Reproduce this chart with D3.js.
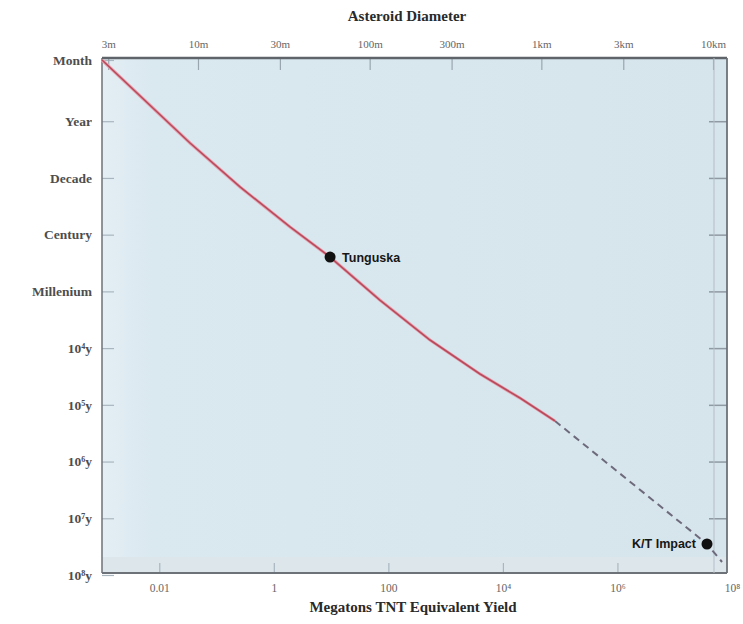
<!DOCTYPE html>
<html>
<head>
<meta charset="utf-8">
<script src="https://cdn.jsdelivr.net/npm/d3@7"></script>
<style>
  body { margin: 0; background: #ffffff; }
  svg { display: block; }
</style>
</head>
<body>
<div id="chart"></div>
<script>
// ---------------- data ----------------
const yieldMt       = [0.001, 0.0344, 0.257, 1.92, 9.6, 71, 533, 3980, 19900, 81300];
const intervalYears = [0.0833, 2.42, 14.4, 73, 248, 1420, 7200, 28600, 75900, 193000];
const extYieldMt       = [81300, 3.66e7, 6.7e7];
const extIntervalYears = [193000, 2.84e7, 5.9e7];

const events = [
  { name: "Tunguska",   yield: 9.6,    interval: 248,    side: "right" },
  { name: "K/T Impact", yield: 3.66e7, interval: 2.84e7, side: "left" }
];

const yTickValues = [1/12, 1, 10, 100, 1e3, 1e4, 1e5, 1e6, 1e7, 1e8];
const yTickLabels = ["Month", "Year", "Decade", "Century", "Millenium", "10⁴y", "10⁵y", "10⁶y", "10⁷y", "10⁸y"];

const xTickValues = [0.01, 1, 100, 1e4, 1e6, 1e8];
const xTickLabels = ["0.01", "1", "100", "10⁴", "10⁶", "10⁸"];

const dTickValues = [3, 10, 30, 100, 300, 1000, 3000, 10000];
const dTickLabels = ["3m", "10m", "30m", "100m", "300m", "1km", "3km", "10km"];

// ---------------- layout ----------------
const W = 743, H = 624;
const plot = { left: 102, right: 727, top: 58, bottom: 573 };

const svg = d3.select("#chart").append("svg").attr("width", W).attr("height", H);

const x = d3.scaleLog().domain([1e-3, 1e8]).range([102, 732]);
const y = d3.scaleLog().domain([1/12, 1e8]).range([60, 575]);
const xTop = d3.scaleLog().domain([2.76, 12060]).range([plot.left, plot.right]);

// background
const defs = svg.append("defs");
const grad = defs.append("linearGradient").attr("id", "bg").attr("x1", 0).attr("x2", 1).attr("y1", 0).attr("y2", 0);
grad.append("stop").attr("offset", "0%").attr("stop-color", "#e4eef4");
grad.append("stop").attr("offset", "8%").attr("stop-color", "#dae8f0");
grad.append("stop").attr("offset", "100%").attr("stop-color", "#d6e4ec");

svg.append("rect")
  .attr("x", plot.left).attr("y", plot.top)
  .attr("width", plot.right - plot.left).attr("height", plot.bottom - plot.top)
  .attr("fill", "url(#bg)");

// faint bottom band
svg.append("rect")
  .attr("x", plot.left).attr("y", plot.bottom - 16)
  .attr("width", plot.right - plot.left).attr("height", 16)
  .attr("fill", "#dde6ea");

// ---------------- axes ----------------
const serif = "'Liberation Serif', 'DejaVu Serif', serif";

const yAxis = d3.axisLeft(y).tickValues(yTickValues)
  .tickFormat((d, i) => yTickLabels[i]).tickSizeInner(-12).tickSizeOuter(0).tickPadding(10);
const gy = svg.append("g").attr("transform", `translate(${plot.left},0)`).call(yAxis);
gy.select(".domain").remove();
gy.selectAll(".tick line").attr("stroke", "#a9b6bf").attr("stroke-width", 1.2);
gy.selectAll(".tick text").attr("font-family", serif).attr("font-size", 13.5)
  .attr("fill", "#2f2f2f").attr("font-weight", "bold").attr("opacity", 0.85);

const yAxisR = d3.axisRight(y).tickValues(yTickValues.slice(1, 9)).tickFormat("")
  .tickSizeInner(-18).tickSizeOuter(0);
const gyr = svg.append("g").attr("transform", `translate(${plot.right},0)`).call(yAxisR);
gyr.select(".domain").remove();
gyr.selectAll(".tick line").attr("stroke", "#8f9aa3").attr("stroke-width", 1.5);

const xAxis = d3.axisBottom(x).tickValues(xTickValues)
  .tickFormat((d, i) => xTickLabels[i]).tickSizeInner(-10).tickSizeOuter(0).tickPadding(11);
const gx = svg.append("g").attr("transform", `translate(0,${plot.bottom})`).call(xAxis);
gx.select(".domain").remove();
gx.selectAll(".tick line").attr("stroke", "#a9b6bf").attr("stroke-width", 1.2)
  .filter(d => d >= 1e8).remove();
gx.selectAll(".tick text").attr("font-family", serif).attr("font-size", 11.5).attr("fill", "#666");

const dAxis = d3.axisTop(xTop).tickValues(dTickValues)
  .tickFormat((d, i) => dTickLabels[i]).tickSizeInner(-12).tickSizeOuter(0).tickPadding(10);
const gd = svg.append("g").attr("transform", `translate(0,${plot.top})`).call(dAxis);
gd.select(".domain").remove();
gd.selectAll(".tick line").attr("stroke", "#9aa6af").attr("stroke-width", 1.2);
gd.selectAll(".tick text").attr("font-family", serif).attr("font-size", 11).attr("fill", "#666");

// frame
svg.append("line").attr("x1", plot.left).attr("x2", plot.left).attr("y1", plot.top).attr("y2", plot.bottom)
  .attr("stroke", "#6c7278").attr("stroke-width", 1.5);
svg.append("line").attr("x1", plot.left).attr("x2", plot.right).attr("y1", plot.bottom).attr("y2", plot.bottom)
  .attr("stroke", "#6c7278").attr("stroke-width", 1.8);
svg.append("line").attr("x1", plot.left).attr("x2", plot.right).attr("y1", plot.top).attr("y2", plot.top)
  .attr("stroke", "#5e646a").attr("stroke-width", 2.5);
svg.append("line").attr("x1", plot.right).attr("x2", plot.right).attr("y1", plot.top).attr("y2", plot.bottom)
  .attr("stroke", "#6c7278").attr("stroke-width", 1.8);
svg.append("line").attr("x1", plot.right - 13).attr("x2", plot.right - 13).attr("y1", plot.top).attr("y2", plot.bottom)
  .attr("stroke", "#b3bec6").attr("stroke-width", 1);

// ---------------- line ----------------
const line = d3.line().x(d => x(d[0])).y(d => y(d[1]));
const mainPts = yieldMt.map((v, i) => [v, intervalYears[i]]);
const extPts = extYieldMt.map((v, i) => [v, extIntervalYears[i]]);

svg.append("path").datum(extPts).attr("d", line)
  .attr("fill", "none").attr("stroke", "#6d6a7c").attr("stroke-width", 2)
  .attr("stroke-dasharray", "7,5");
svg.append("path").datum(mainPts).attr("d", line)
  .attr("fill", "none").attr("stroke", "#e6a3b0").attr("stroke-width", 3.2);
svg.append("path").datum(mainPts).attr("d", line)
  .attr("fill", "none").attr("stroke", "#b84a5c").attr("stroke-width", 1.6);

// ---------------- events ----------------
const ev = svg.append("g").selectAll("g").data(events).join("g");
ev.append("circle")
  .attr("cx", d => x(d.yield)).attr("cy", d => y(d.interval))
  .attr("r", 5.5).attr("fill", "#111");
ev.append("text")
  .attr("x", d => x(d.yield) + (d.side === "right" ? 12 : -11))
  .attr("y", d => y(d.interval) + 4.5)
  .attr("text-anchor", d => d.side === "right" ? "start" : "end")
  .attr("font-family", "'Liberation Sans', Arial, sans-serif")
  .attr("font-weight", "bold").attr("font-size", 12.5).attr("fill", "#161616")
  .text(d => d.name);

// ---------------- titles ----------------
svg.append("text").attr("x", 407).attr("y", 21).attr("text-anchor", "middle")
  .attr("font-family", serif).attr("font-weight", "bold").attr("font-size", 15).attr("fill", "#2a2a2a")
  .text("Asteroid Diameter");
svg.append("text").attr("x", 413).attr("y", 612).attr("text-anchor", "middle")
  .attr("font-family", serif).attr("font-weight", "bold").attr("font-size", 15).attr("fill", "#2a2a2a")
  .text("Megatons TNT Equivalent Yield");
</script>
</body>
</html>
